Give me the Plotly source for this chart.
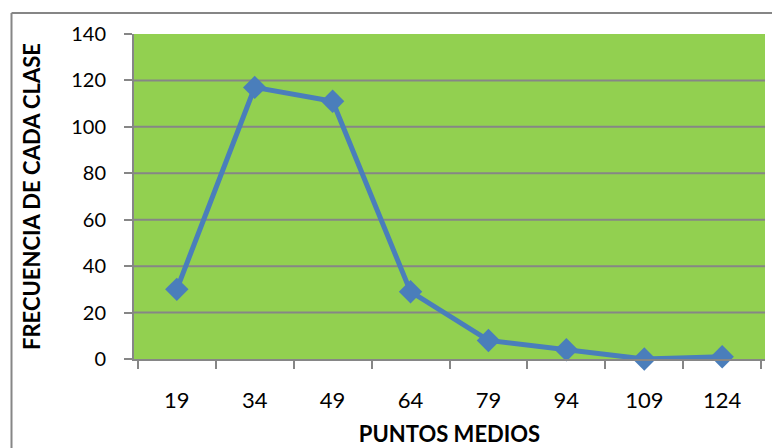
import plotly.graph_objects as go

# Class midpoints and the frequency of each class
puntos_medios = ["19", "34", "49", "64", "79", "94", "109", "124"]
frecuencias = [30, 117, 111, 29, 8, 4, 0, 1]
y_ticks = [0, 20, 40, 60, 80, 100, 120, 140]

W, H = 772, 448
M_LEFT, M_RIGHT, M_TOP, M_BOTTOM = 134, 7, 34, 89
plot_w = W - M_LEFT - M_RIGHT
plot_h = H - M_TOP - M_BOTTOM

GRAY = "#868686"
FONT = "Lato, 'Liberation Sans', Arial, sans-serif"

fig = go.Figure(
    go.Scatter(
        x=puntos_medios,
        y=frecuencias,
        mode="lines+markers",
        line=dict(color="#4A7EBB", width=5),
        marker=dict(symbol="diamond", size=18, color="#4A7EBB"),
        cliponaxis=False,
        showlegend=False,
    )
)

# Horizontal gridlines inside the plot area (none on the top edge)
for v in y_ticks[1:-1]:
    fig.add_shape(type="line", xref="paper", yref="y", layer="below",
                  x0=0, x1=1, y0=v, y1=v,
                  line=dict(color=GRAY, width=2))

# Outer chart frame (top and left edges visible)
frame_x = (11.5 - M_LEFT) / plot_w
frame_y = 1 + (M_TOP - 13) / plot_h
fig.add_shape(type="line", xref="paper", yref="paper",
              x0=frame_x, x1=frame_x, y0=-1, y1=frame_y,
              line=dict(color=GRAY, width=2))
fig.add_shape(type="line", xref="paper", yref="paper",
              x0=frame_x, x1=1.2, y0=frame_y, y1=frame_y,
              line=dict(color=GRAY, width=2))

fig.update_layout(
    width=W, height=H,
    margin=dict(l=M_LEFT, r=M_RIGHT, t=M_TOP, b=M_BOTTOM),
    paper_bgcolor="white",
    plot_bgcolor="#92D050",
    font=dict(family=FONT, size=21, color="black"),
    xaxis=dict(
        type="category",
        automargin=False,
        showline=True, linecolor=GRAY, linewidth=2,
        ticks="outside", tickson="boundaries", ticklen=8,
        tickcolor=GRAY, tickwidth=2,
        showgrid=False,
        tickfont=dict(size=22),
        ticklabelstandoff=21,
        title=dict(text="<b>PUNTOS MEDIOS</b>", font=dict(size=22), standoff=14),
    ),
    yaxis=dict(
        range=[0, 140],
        tickvals=y_ticks,
        automargin=False,
        showline=True, linecolor=GRAY, linewidth=2,
        ticks="outside", ticklen=8, tickcolor=GRAY, tickwidth=2,
        showgrid=False,
        zeroline=False,
        tickfont=dict(size=20),
        ticklabelstandoff=14,
        title=dict(text="<b>FRECUENCIA DE CADA CLASE</b>", font=dict(size=22), standoff=24),
    ),
)

fig.write_html("out.html")
